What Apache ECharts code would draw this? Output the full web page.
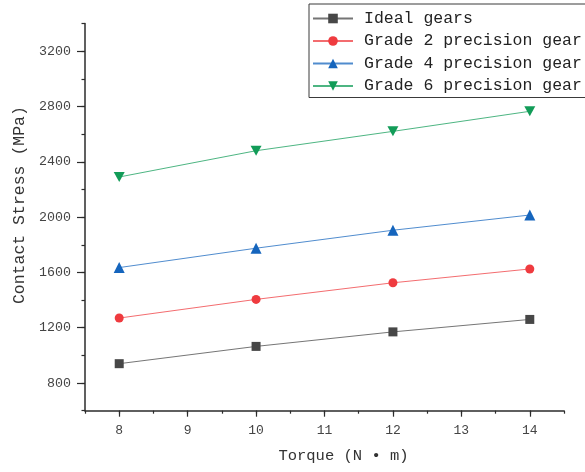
<!DOCTYPE html>
<html>
<head>
<meta charset="utf-8">
<script src="https://cdn.jsdelivr.net/npm/echarts@6/dist/echarts.min.js"></script>
<style>
  html, body { margin: 0; padding: 0; background: #fff; }
  #chart { width: 585px; height: 472px; }
</style>
</head>
<body>
<div id="chart"></div>
<script>
// Contact stress versus torque for gears of different precision grades
var torque = [8, 10, 12, 14];
var idealGears = [940, 1065, 1170, 1260];
var grade2 = [1270, 1405, 1525, 1625];
var grade4 = [1635, 1775, 1905, 2015];
var grade6 = [2290, 2480, 2620, 2765];

var seriesNames = ['Ideal gears', 'Grade 2 precision gear', 'Grade 4 precision gear', 'Grade 6 precision gear'];

var xMajorTicks = [8, 9, 10, 11, 12, 13, 14];
var yMajorTicks = [800, 1200, 1600, 2000, 2400, 2800, 3200];

var FONT = '"Liberation Mono", "DejaVu Sans Mono", monospace';
var AXIS_COLOR = '#2b2b2b';

function pairs(xs, ys) {
  return xs.map(function (x, i) { return [x, ys[i]]; });
}

var downTriangle = 'path://M0,0 L10,0 L5,8.66 Z';

function lineSeries(name, values, color, symbol, size) {
  return {
    name: name,
    type: 'line',
    xAxisIndex: 0,
    yAxisIndex: 0,
    data: pairs(torque, values),
    symbol: symbol,
    symbolSize: size,
    showSymbol: true,
    itemStyle: { color: color },
    lineStyle: { color: color, width: 1, opacity: 0.75 },
    emphasis: { disabled: true },
    z: 3
  };
}

var chart = echarts.init(document.getElementById('chart'), null, { renderer: 'canvas' });

chart.setOption({
  animation: false,
  backgroundColor: '#ffffff',
  grid: { left: 85, right: 21, top: 23.5, bottom: 61.3, containLabel: false },
  legend: {
    data: seriesNames,
    orient: 'vertical',
    left: 309,
    top: 4,
    itemWidth: 40,
    itemHeight: 12,
    itemGap: 5.5,
    padding: [6, 40, 3, 3],
    borderColor: '#3a3a3a',
    borderWidth: 1,
    borderRadius: 0,
    backgroundColor: '#ffffff',
    textStyle: { fontFamily: FONT, fontSize: 16.5, lineHeight: 16, color: '#222', padding: [0, 0, 0, 6] }
  },
  xAxis: [
    {
      type: 'value',
      min: 7.5,
      max: 14.5,
      interval: 0.5,
      name: 'Torque (N • m)',
      nameLocation: 'middle',
      nameGap: 37,
      nameTextStyle: { fontFamily: FONT, fontSize: 15.5, color: '#333', padding: [0, 0, 0, 38] },
      axisLine: { show: true, onZero: false, lineStyle: { color: AXIS_COLOR, width: 1.5 } },
      axisTick: { show: true, inside: false, length: 3, lineStyle: { color: AXIS_COLOR, width: 1.2 } },
      axisLabel: {
        margin: 13,
        fontFamily: FONT,
        fontSize: 13,
        color: '#444',
        formatter: function (v) { return Number.isInteger(v) ? String(v) : ''; }
      },
      splitLine: { show: false }
    },
    {
      type: 'value',
      position: 'bottom',
      min: 7.5,
      max: 14.5,
      interval: 0.5,
      axisLine: { show: false, onZero: false },
      axisTick: { show: true, inside: false, length: 6, customValues: xMajorTicks, lineStyle: { color: AXIS_COLOR, width: 1.2 } },
      axisLabel: { show: false },
      splitLine: { show: false }
    }
  ],
  yAxis: [
    {
      type: 'value',
      min: 600,
      max: 3400,
      interval: 200,
      name: 'Contact Stress (MPa)',
      nameLocation: 'middle',
      nameGap: 56,
      nameRotate: 90,
      nameTextStyle: { fontFamily: FONT, fontSize: 16.5, color: '#333', padding: [0, 0, 0, 24] },
      axisLine: { show: true, onZero: false, lineStyle: { color: AXIS_COLOR, width: 1.5 } },
      axisTick: { show: true, inside: false, length: 3.5, lineStyle: { color: AXIS_COLOR, width: 1.2 } },
      axisLabel: {
        margin: 14,
        fontFamily: FONT,
        fontSize: 13.3,
        color: '#444',
        formatter: function (v) { return v % 400 === 0 ? String(v) : ''; }
      },
      splitLine: { show: false }
    },
    {
      type: 'value',
      position: 'left',
      min: 600,
      max: 3400,
      interval: 200,
      axisLine: { show: false, onZero: false },
      axisTick: { show: true, inside: false, length: 8, customValues: yMajorTicks, lineStyle: { color: AXIS_COLOR, width: 1.2 } },
      axisLabel: { show: false },
      splitLine: { show: false }
    }
  ],
  series: [
    lineSeries(seriesNames[0], idealGears, '#474747', 'rect', 9),
    lineSeries(seriesNames[1], grade2, '#ef3b3f', 'circle', 9),
    lineSeries(seriesNames[2], grade4, '#1565bd', 'triangle', 11),
    lineSeries(seriesNames[3], grade6, '#129c58', downTriangle, [11, 10])
  ]
});
</script>
</body>
</html>
